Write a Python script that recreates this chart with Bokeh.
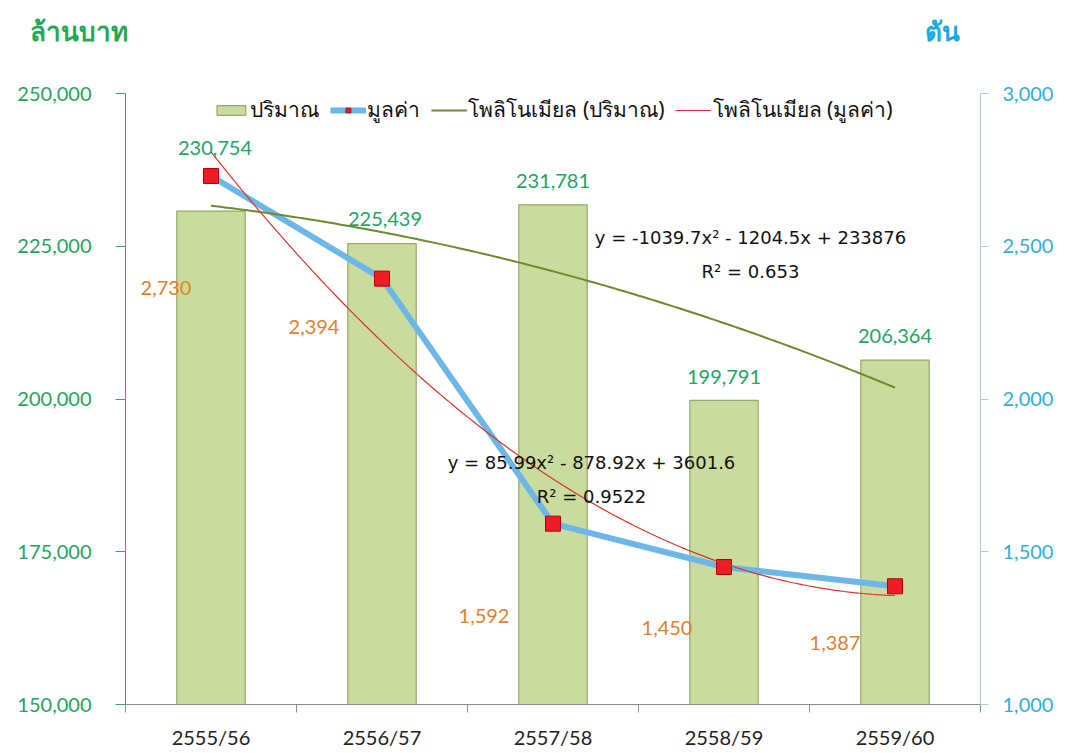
import numpy as np
from bokeh.plotting import figure
from bokeh.layouts import column
from bokeh.models import (Range1d, LinearAxis, FixedTicker, NumeralTickFormatter,
                          Legend, LegendItem, Label, Div)
from bokeh.embed import file_html
from bokeh.resources import INLINE

# ---- data ----
categories = ["2555/56", "2556/57", "2557/58", "2558/59", "2559/60"]
volume = [230754, 225439, 231781, 199791, 206364]      # ปริมาณ (left axis)
value_mb = [2730, 2394, 1592, 1450, 1387]              # มูลค่า (right axis)
left_ticks = [150000, 175000, 200000, 225000, 250000]
right_ticks = [1000, 1500, 2000, 2500, 3000]
eq_volume = ["y = -1039.7x² - 1204.5x + 233876", "R² = 0.653"]
eq_value = ["y = 85.99x² - 878.92x + 3601.6", "R² = 0.9522"]
left_unit = "ล้านบาท"
right_unit = "ตัน"

# ---- styles ----
NUM_FONT = "Lato"
TH_FONT = "Noto Sans"
BAR_FILL = "#C9DC9E"
BAR_LINE = "#94A968"
GREEN_TXT = "#1FA463"
ORANGE_TXT = "#E2802E"
BLUE_TXT = "#33ADD6"

W = 1066
HEAD = 60

x = list(range(1, len(categories) + 1))

head = Div(text=(
    f'<div style="position:relative;width:{W}px;height:{HEAD}px;'
    f'font-family:\'Noto Sans\',sans-serif;font-weight:bold;font-size:26px;">'
    f'<span style="position:absolute;left:30px;top:11px;line-height:40px;color:#1DAA55;">{left_unit}</span>'
    f'<span style="position:absolute;left:925px;top:11px;line-height:40px;color:#1AA8E0;">{right_unit}</span>'
    f'</div>'), width=W, height=HEAD, margin=0)

p = figure(width=W, height=751 - HEAD, x_range=Range1d(0.5, len(categories) + 0.5),
           y_range=Range1d(left_ticks[0], left_ticks[-1]),
           output_backend="svg", toolbar_location=None,
           min_border_left=125, min_border_right=W - 980,
           min_border_top=93 - HEAD, min_border_bottom=46, margin=0)
p.extra_y_ranges = {"val": Range1d(right_ticks[0], right_ticks[-1])}
p.outline_line_color = None
p.xgrid.visible = False
p.ygrid.visible = False
p.background_fill_color = "white"
p.border_fill_color = "white"

# bars
bars = p.vbar(x=x, top=volume, bottom=left_ticks[0], width=0.4,
              fill_color=BAR_FILL, line_color=BAR_LINE, line_width=1.2)

# value line + markers
blue = p.line(x, value_mb, y_range_name="val", line_color="#6DB6E8", line_width=6)
marks = p.scatter(x, value_mb, y_range_name="val", marker="square", size=15,
                  fill_color="#EE1C25", line_color="#B00010", line_width=1)

# polynomial trend lines (2nd order fit of the data)
xs = np.linspace(1, len(categories), 150)
cv = np.polyfit(x, volume, 2)
olive = p.line(xs, np.polyval(cv, xs), line_color="#6E8A2E", line_width=2)
ca = np.polyfit(x, value_mb, 2)
red = p.line(xs, np.polyval(ca, xs), y_range_name="val", line_color="#D9342B", line_width=1.2)

# ---- axes ----
ya = p.yaxis[0]
ya.ticker = FixedTicker(ticks=left_ticks)
ya.formatter = NumeralTickFormatter(format="0,0")
ya.axis_line_color = "#3C9E7C"
ya.major_tick_line_color = "#3C9E7C"
ya.major_tick_out = 10
ya.major_tick_in = 0
ya.minor_tick_line_color = None
ya.major_label_text_color = GREEN_TXT
ya.major_label_text_font = NUM_FONT
ya.major_label_text_font_size = "20px"
ya.major_label_standoff = 24

ra = LinearAxis(y_range_name="val", ticker=FixedTicker(ticks=right_ticks),
                formatter=NumeralTickFormatter(format="0,0"))
ra.axis_line_color = "#A9CBDA"
ra.major_tick_line_color = "#A9CBDA"
ra.major_tick_out = 8
ra.major_tick_in = 0
ra.minor_tick_line_color = None
ra.major_label_text_color = BLUE_TXT
ra.major_label_text_font = NUM_FONT
ra.major_label_text_font_size = "20px"
ra.major_label_standoff = 14
p.add_layout(ra, "right")

xa = p.xaxis[0]
xa.ticker = FixedTicker(ticks=x, minor_ticks=[i + 0.5 for i in range(len(categories) + 1)])
xa.major_label_overrides = {xi: c for xi, c in zip(x, categories)}
xa.axis_line_color = "#8C8C8C"
xa.major_tick_line_color = None
xa.major_tick_out = 0
xa.minor_tick_line_color = "#8C8C8C"
xa.minor_tick_out = 8
xa.minor_tick_in = 0
xa.major_label_text_color = "#222222"
xa.major_label_text_font = NUM_FONT
xa.major_label_text_font_size = "20px"
xa.major_label_standoff = 12

# ---- data labels ----
bar_dy = [63, 25, 24, 23, 24]
bar_dx = [4, 3, 0, 0, 0]
for xi, v, dy, dx in zip(x, volume, bar_dy, bar_dx):
    p.add_layout(Label(x=xi, y=v, text=f"{v:,}", x_offset=dx, y_offset=dy,
                       text_align="center", text_baseline="middle",
                       text_color=GREEN_TXT, text_font=NUM_FONT, text_font_size="20px"))

val_dx = [-45, -68, -69, -57, -60]
val_dy = [-112, -48, -92, -61, -57]
for xi, v, dy, dx in zip(x, value_mb, val_dy, val_dx):
    p.add_layout(Label(x=xi, y=v, y_range_name="val", text=f"{v:,}", x_offset=dx, y_offset=dy,
                       text_align="center", text_baseline="middle",
                       text_color=ORANGE_TXT, text_font=NUM_FONT, text_font_size="20px"))

# equations
for txt, yy in zip(eq_volume, [226470, 220915]):
    p.add_layout(Label(x=4.155, y=yy, text=txt, text_align="center", text_baseline="middle",
                       text_color="#111111", text_font="DejaVu Sans", text_font_size="18px"))
for txt, yy in zip(eq_value, [189540, 183990]):
    p.add_layout(Label(x=3.225, y=yy, text=txt, text_align="center", text_baseline="middle",
                       text_color="#111111", text_font="DejaVu Sans", text_font_size="18px"))

# ---- legend ----
legend = Legend(items=[
    LegendItem(label="ปริมาณ", renderers=[bars]),
    LegendItem(label="มูลค่า", renderers=[blue, marks]),
    LegendItem(label="โพลิโนเมียล (ปริมาณ)", renderers=[olive]),
    LegendItem(label="โพลิโนเมียล (มูลค่า)", renderers=[red]),
], orientation="horizontal", location="top_center")
legend.border_line_color = None
legend.background_fill_alpha = 0
legend.label_text_font = TH_FONT
legend.label_text_font_size = "21px"
legend.label_text_color = "#111111"
legend.glyph_width = 36
legend.glyph_height = 12
legend.spacing = 10
legend.label_standoff = 2
legend.padding = 0
legend.margin = 0
p.add_layout(legend)

layout = column(head, p, spacing=0, margin=0)
open("out.html", "w").write(file_html(layout, INLINE))
